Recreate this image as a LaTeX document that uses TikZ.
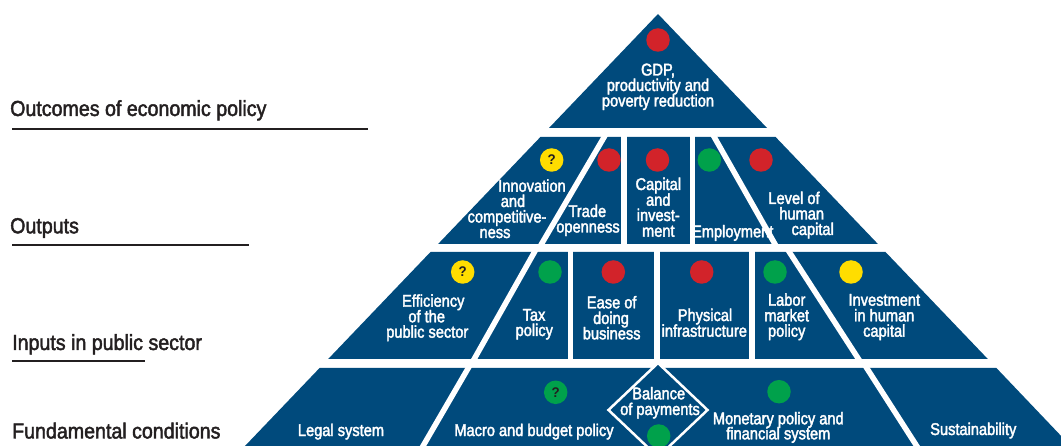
\documentclass[tikz,border=0pt]{standalone}
\usepackage{fontspec}
\newfontfamily\pf{Liberation Sans}[FakeStretch=0.86,FakeBold=2.2]
\newfontfamily\lf{Liberation Sans}[FakeStretch=0.9,FakeBold=2]
\newfontfamily\qf{Liberation Sans}[FakeStretch=0.95]
\definecolor{pblue}{RGB}{0,74,124}
\definecolor{pred}{RGB}{210,35,42}
\definecolor{pgreen}{RGB}{0,161,75}
\definecolor{pyellow}{RGB}{255,221,0}
\definecolor{labk}{RGB}{35,31,32}
\tikzset{
  rowshape/.style={fill=pblue},
  gapline/.style={draw=white, line width=5.5pt, shorten <=-6pt, shorten >=-6pt},
  txt/.style={text=white, font=\pf\fontsize{17}{17}\selectfont, anchor=base, inner sep=0pt},
  lab/.style={text=labk, font=\lf\fontsize{21.8}{21}\selectfont, anchor=base west, inner sep=0pt},
  uline/.style={draw=labk, line width=2.2pt},
  dot/.style={circle, minimum size=23.5pt, inner sep=0pt, text=labk, font=\qf\fontsize{14}{14}\selectfont\bfseries},
}
\begin{document}
\begin{tikzpicture}[x=1pt,y=-1pt]
\useasboundingbox (0,0) rectangle (1061,446);
% rows
\fill[rowshape] (658,14) -- (767,128) -- (549,128) -- cycle;
\fill[rowshape] (540.4,137) -- (775.6,137) -- (877.9,244) -- (438.1,244) -- cycle;
\fill[rowshape] (430.5,252) -- (885.5,252) -- (987.8,359) -- (328.2,359) -- cycle;
\fill[rowshape] (319.6,368) -- (996.4,368) -- (1084,460) -- (231.6,460) -- cycle;
% gaps row 2
\draw[gapline] (604.2,137) -- (541.5,244);
\draw[gapline] (624.2,137) -- (624.2,244);
\draw[gapline] (692.5,137) -- (692.5,244);
\draw[gapline] (714.2,137) -- (774.9,244);
% gaps row 3
\draw[gapline] (534.5,252) -- (474.2,359);
\draw[gapline] (570.3,252) -- (570.3,359);
\draw[gapline] (657,252) -- (657,359);
\draw[gapline] (752.2,252) -- (752.2,359);
\draw[gapline] (789.3,252) -- (858.5,359);
% gaps row 4
\draw[gapline] (468.3,368) -- (414.9,460);
\draw[gapline] (866.7,368) -- (925.7,460);
% diamond
\draw[fill=pblue, draw=white, line width=2.5pt, line join=miter] (658,363) -- (707.5,410) -- (658,457) -- (608.5,410) -- cycle;
% dots
\node[dot, fill=pred] (d1) at (658,40) {};
\node[dot, fill=pyellow] (d21) at (551.7,160) {?};
\node[dot, fill=pred] (d22) at (609,160) {};
\node[dot, fill=pred] (d23) at (657.5,160) {};
\node[dot, fill=pgreen] (d24) at (709.3,160) {};
\node[dot, fill=pred] (d25) at (761,160) {};
\node[dot, fill=pyellow] (d31) at (462.7,272) {?};
\node[dot, fill=pgreen] (d32) at (550,272) {};
\node[dot, fill=pred] (d33) at (613.3,272) {};
\node[dot, fill=pred] (d34) at (701.7,272) {};
\node[dot, fill=pgreen] (d35) at (775,272) {};
\node[dot, fill=pyellow] (d36) at (851,272) {};
\node[dot, fill=pgreen] (d41) at (555.7,392.3) {?};
\node[dot, fill=pgreen] (d42) at (658.7,436) {};
\node[dot, fill=pgreen] (d43) at (779,391.7) {};
% row 1 text
\node[txt] (gdp1) at (658,75.5) {GDP,};
\node[txt] (gdp2) at (658,91) {productivity and};
\node[txt] (gdp3) at (658,106.5) {poverty reduction};
% row 2 text
\node[txt] (inn1) at (532,191.7) {Innovation};
\node[txt] (inn2) at (513,207) {and};
\node[txt] (inn3) at (507,222.5) {competitive-};
\node[txt] (inn4) at (495,238) {ness};
\node[txt] (tra1) at (587.3,217) {Trade};
\node[txt] (tra2) at (588,232.5) {openness};
\node[txt] (cap1) at (658.3,190) {Capital};
\node[txt] (cap2) at (658.3,205.7) {and};
\node[txt] (cap3) at (658.3,221) {invest-};
\node[txt] (cap4) at (658.3,236.7) {ment};
\node[txt] (emp1) at (732.7,237.3) {Employment};
\node[txt] (lev1) at (794,204) {Level of};
\node[txt] (lev2) at (801.7,219.5) {human};
\node[txt] (lev3) at (812.7,235) {capital};
% row 3 text
\node[txt] (eff1) at (433.3,306.7) {Efficiency};
\node[txt] (eff2) at (426.7,322.3) {of the};
\node[txt] (eff3) at (427.3,337.7) {public sector};
\node[txt] (tax1) at (534,320.7) {Tax};
\node[txt] (tax2) at (534.3,336) {policy};
\node[txt] (eas1) at (611.7,308.3) {Ease of};
\node[txt] (eas2) at (611,324) {doing};
\node[txt] (eas3) at (611.7,339.3) {business};
\node[txt] (phy1) at (705,321) {Physical};
\node[txt] (phy2) at (704.3,336.7) {infrastructure};
\node[txt] (lab1) at (786.7,305.7) {Labor};
\node[txt] (lab2) at (786.7,321.3) {market};
\node[txt] (lab3) at (786.7,336.7) {policy};
\node[txt] (inv1) at (884.3,305.7) {Investment};
\node[txt] (inv2) at (884.3,321.3) {in human};
\node[txt] (inv3) at (884.3,336.7) {capital};
% row 4 text
\node[txt] (leg1) at (341,436) {Legal system};
\node[txt] (mac1) at (534,436) {Macro and budget policy};
\node[txt] (bal1) at (658.7,399.3) {Balance};
\node[txt] (bal2) at (660,415) {of payments};
\node[txt] (mon1) at (778.3,424.3) {Monetary policy and};
\node[txt] (mon2) at (778.3,439.3) {financial system};
\node[txt] (sus1) at (973.3,435) {Sustainability};
% left labels
\node[lab] (l1) at (10,116) {Outcomes of economic policy};
\node[lab] (l2) at (10,233.3) {Outputs};
\node[lab] (l3) at (12,350) {Inputs in public sector};
\node[lab] (l4) at (12,438.5) {Fundamental conditions};
\draw[uline] (12,129) -- (368,129);
\draw[uline] (12,245) -- (249,245);
\draw[uline] (12,361) -- (145,361);
\end{tikzpicture}
\end{document}
